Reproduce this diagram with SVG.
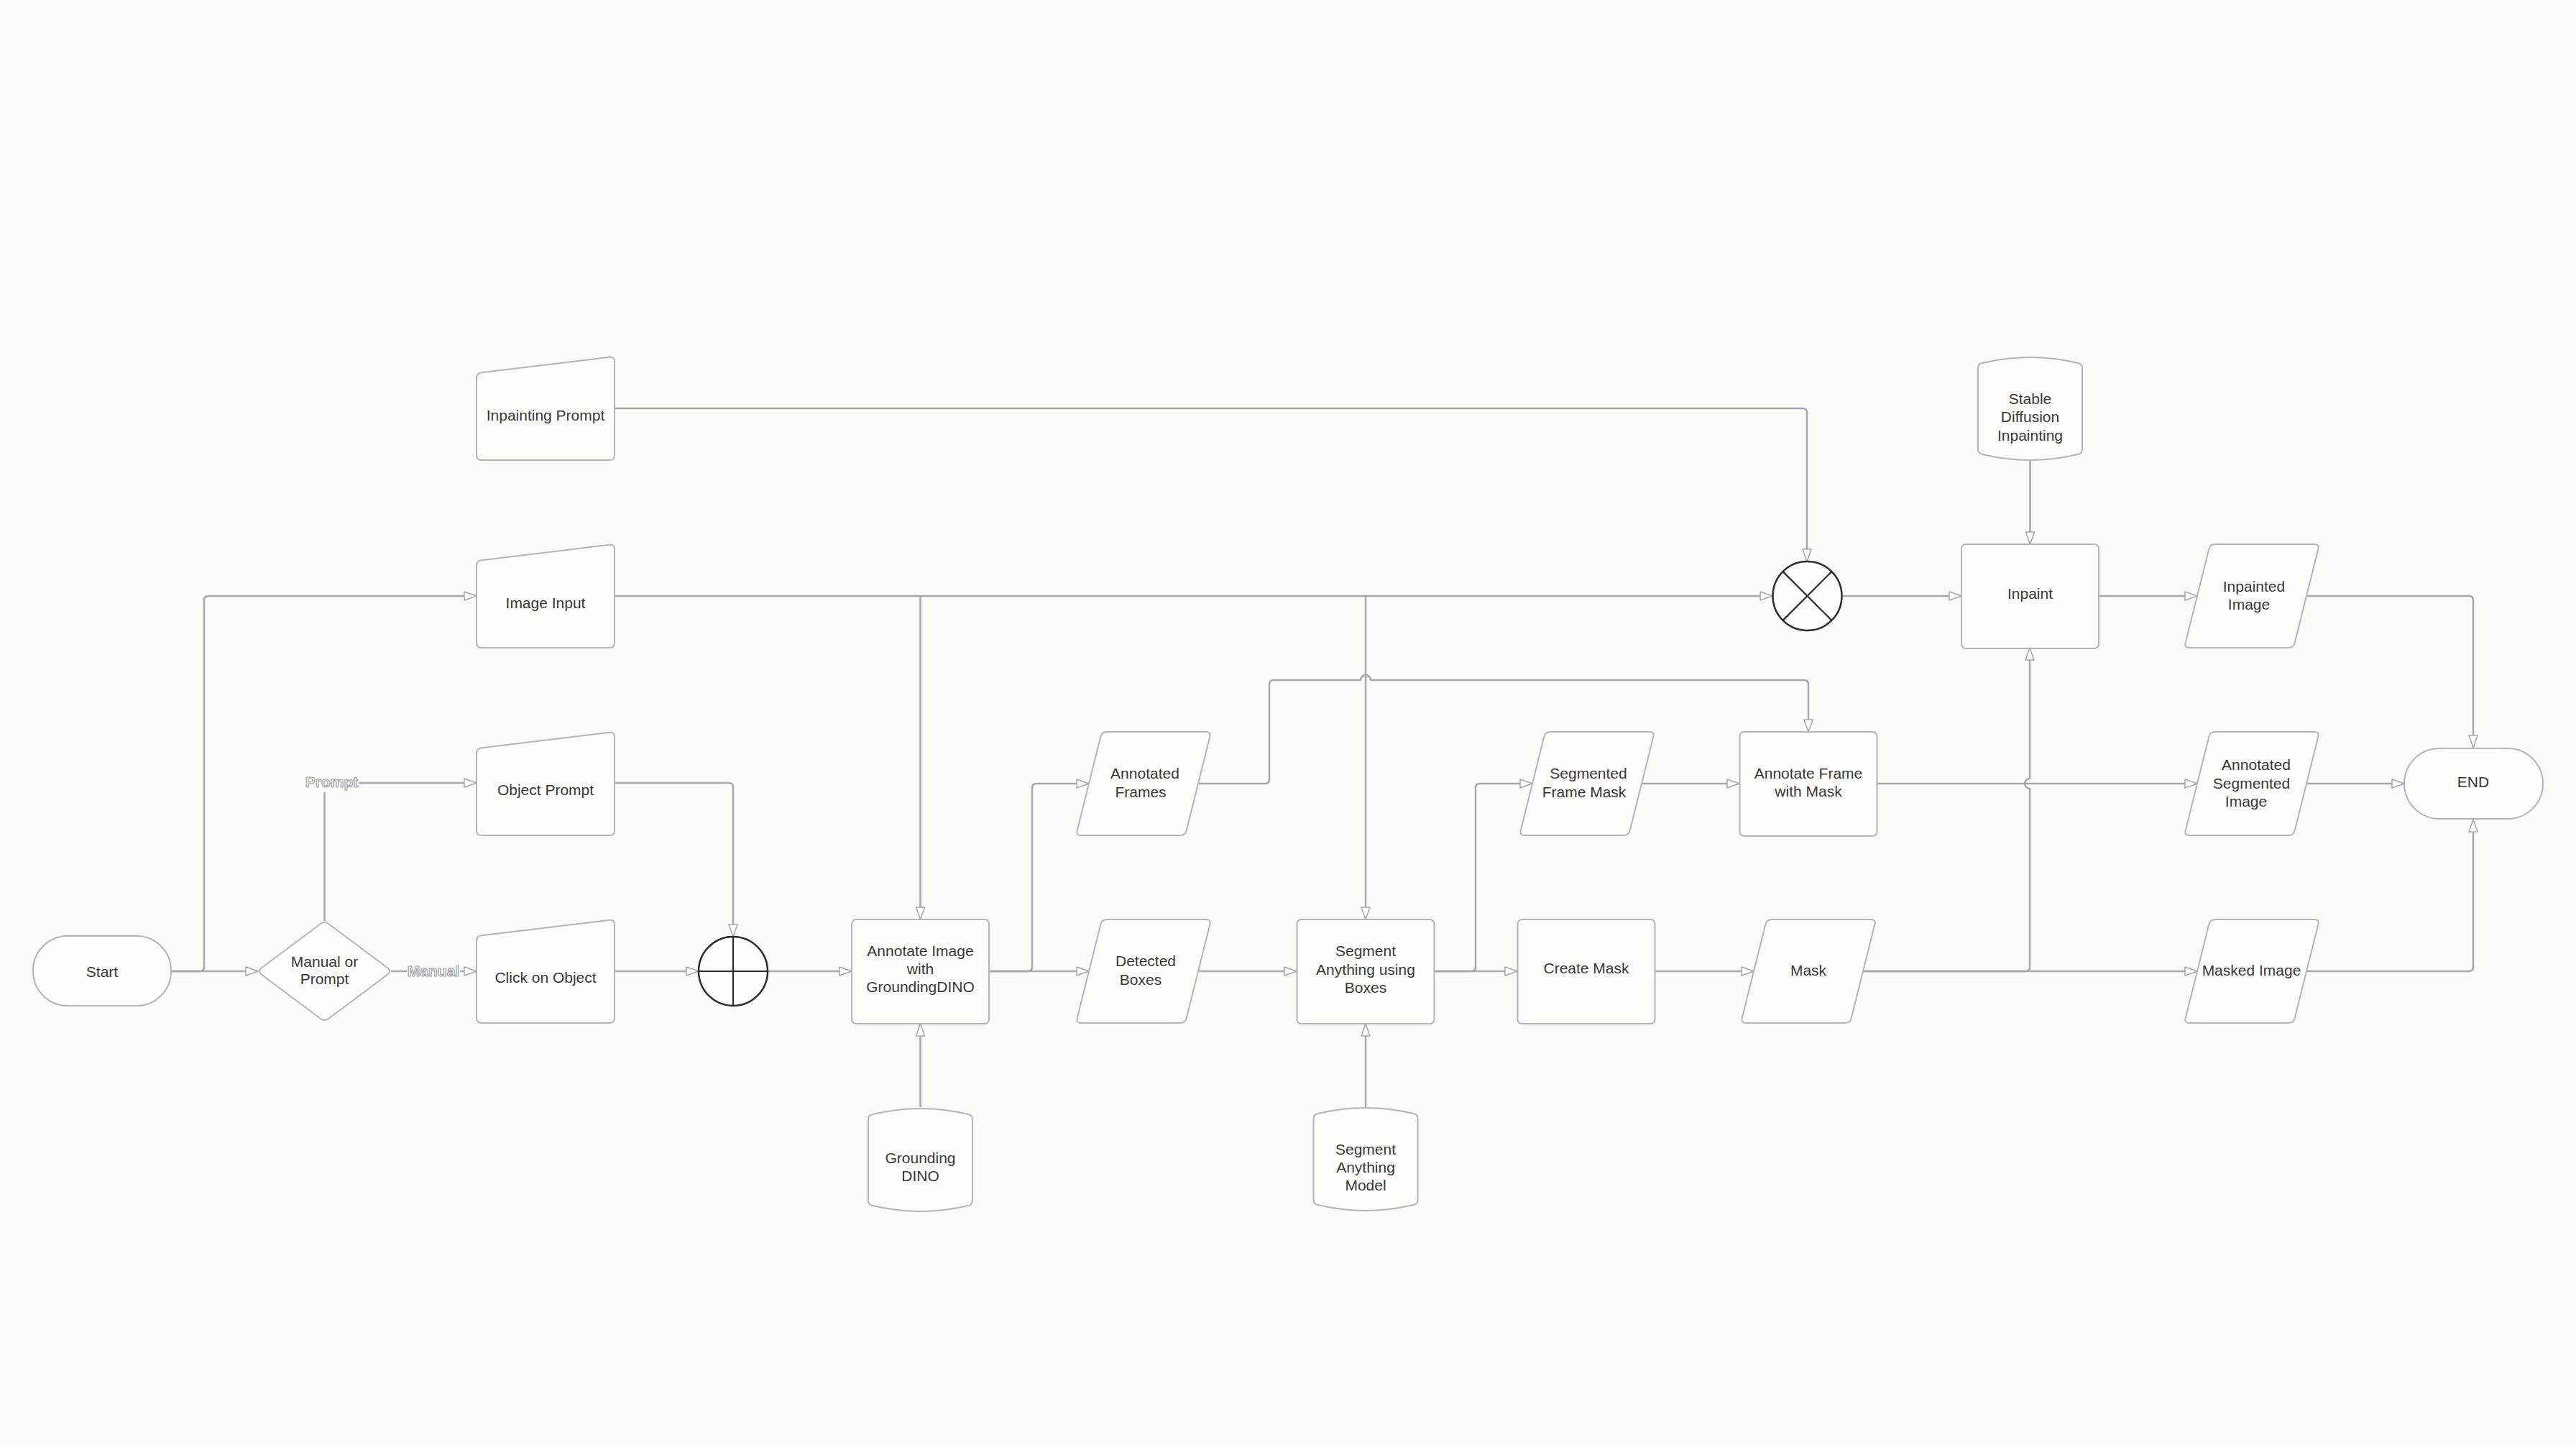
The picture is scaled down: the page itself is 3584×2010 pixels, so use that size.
<svg xmlns="http://www.w3.org/2000/svg" xmlns:xlink="http://www.w3.org/1999/xlink" width="3584" height="2010" viewBox="0 0 3584 2010">
<style>
.shape{fill:#fdfdfc;stroke:#b4b4ba;stroke-width:2;stroke-linejoin:round}
.conn path{fill:none;stroke:#a6a6ad;stroke-width:2.5;stroke-linejoin:round}
.conn path.arr{marker-end:url(#arrow)}
.t{font-family:"Liberation Sans",Arial,sans-serif;font-size:21px;fill:#383838;text-anchor:middle}
.lbl{font-family:"Liberation Sans",Arial,sans-serif;font-size:21px;font-weight:bold;fill:#efefef;stroke:#a8a8ae;stroke-width:1.2;text-anchor:middle}
.lblbg{fill:#fbfbf9;stroke:none}
.junc{fill:#fdfdfc;stroke:#2d2d2d;stroke-width:2.5}
.junc line{stroke:#2d2d2d;stroke-width:2.2}
</style>
<defs>
<marker id="arrow" viewBox="0 0 19 14" refX="18" refY="7" markerWidth="19" markerHeight="14" markerUnits="userSpaceOnUse" orient="auto">
<path d="M1,1 L18,7 L1,13 Z" fill="#fbfbf9" stroke="#a6a6ad" stroke-width="1.5" stroke-linejoin="round"/>
</marker>
<path id="manual" d="M0,30 Q0,23 7,22.2 L185,0.8 Q192,0 192,7 L192,137 Q192,144 185,144 L7,144 Q0,144 0,137 Z"/>
<path id="para" d="M34.3,6.8 Q36,0 43,0 L181,0 Q188,0 186.3,6.8 L153.7,137.2 Q152,144 145,144 L7,144 Q0,144 1.7,137.2 Z"/>
<path id="cyl" d="M0,16 Q0,10 6,9 Q72.5,-7 139,9 Q145,10 145,16 L145,129 Q145,135 139,136 Q72.5,152 6,136 Q0,135 0,129 Z"/>
<rect id="box" x="0" y="0" width="191" height="145" rx="6"/>
</defs>
<rect x="0" y="0" width="3584" height="2010" fill="#fbfbf9"/>

<g id="connectors" class="conn">
<path class="arr" d="M238,1351 H359"/>
<path class="arr" d="M238,1351 H278 Q284,1351 284,1345 V835 Q284,829 290,829 H663"/>
<path class="arr" d="M451.5,1281 V1095 Q451.5,1089 457.5,1089 H663"/>
<path class="arr" d="M544,1351 H663"/>
<path class="arr" d="M855,1089 H1014 Q1020,1089 1020,1095 V1303"/>
<path class="arr" d="M855,1351 H972"/>
<path class="arr" d="M1068,1351 H1185"/>
<path class="arr" d="M855,829 H2466"/>
<path class="arr" d="M1280.5,829 V1279"/>
<path class="arr" d="M1900,829 V1279"/>
<path class="arr" d="M855,568 H2508 Q2514,568 2514,574 V781"/>
<path class="arr" d="M1280.5,1540 V1424"/>
<path class="arr" d="M1376,1351 H1515"/>
<path class="arr" d="M1376,1351 H1430 Q1436,1351 1436,1345 V1096 Q1436,1090 1442,1090 H1515"/>
<path class="arr" d="M1667,1090 H1760 Q1766,1090 1766,1084 V952 Q1766,946 1772,946 H1893 A7,7 0 0 1 1907,946 H2510 Q2516,946 2516,952 V1018"/>
<path class="arr" d="M1667,1351 H1804"/>
<path class="arr" d="M1900,1540 V1424"/>
<path class="arr" d="M1996,1351 H2111"/>
<path class="arr" d="M1996,1351 H2047 Q2053,1351 2053,1345 V1096 Q2053,1090 2059,1090 H2132"/>
<path class="arr" d="M2284,1090 H2420"/>
<path class="arr" d="M2303,1351 H2440"/>
<path class="arr" d="M2592,1351 H3057"/>
<path class="arr" d="M2592,1351 H2818 Q2824,1351 2824,1345 V1097 A7,7 0 0 1 2824,1083 V901"/>
<path class="arr" d="M2612,1090 H3057"/>
<path class="arr" d="M2563,829 H2729"/>
<path class="arr" d="M2824.5,640 V757"/>
<path class="arr" d="M2920,829 H3057"/>
<path class="arr" d="M3209,829 H3435 Q3441,829 3441,835 V1040"/>
<path class="arr" d="M3209,1090 H3345"/>
<path class="arr" d="M3209,1351 H3435 Q3441,1351 3441,1345 V1140"/>
<rect class="lblbg" x="423" y="1074" width="76" height="28"/>
<text class="lbl" x="461.5" y="1094.5">Prompt</text>
<rect class="lblbg" x="566" y="1338" width="74" height="26"/>
<text class="lbl" x="603" y="1357.5">Manual</text>
</g>

<g id="start">
<rect class="shape" x="46" y="1302" width="192" height="97" rx="48"/>
<text class="t" x="142" y="1358.5">Start</text>
</g>
<g id="manual-or-prompt">
<path class="shape" d="M446,1285 Q451.5,1281 457,1285 L540,1347 Q544,1351 540,1355 L457,1417 Q451.5,1421 446,1417 L363,1355 Q359,1351 363,1347 Z"/>
<text class="t" x="451.5" y="1344.5">Manual or</text>
<text class="t" x="451.5" y="1368.5">Prompt</text>
</g>
<g id="inpainting-prompt">
<use xlink:href="#manual" class="shape" transform="translate(663,496)"/>
<text class="t" x="759" y="584.5">Inpainting Prompt</text>
</g>
<g id="image-input">
<use xlink:href="#manual" class="shape" transform="translate(663,757)"/>
<text class="t" x="759" y="845.5">Image Input</text>
</g>
<g id="object-prompt">
<use xlink:href="#manual" class="shape" transform="translate(663,1018)"/>
<text class="t" x="759" y="1105.5">Object Prompt</text>
</g>
<g id="click-on-object">
<use xlink:href="#manual" class="shape" transform="translate(663,1279)"/>
<text class="t" x="759" y="1366.5">Click on Object</text>
</g>
<g id="or-junction" class="junc">
<circle cx="1020" cy="1351" r="48"/>
<line x1="1020" y1="1303" x2="1020" y2="1399"/>
<line x1="972" y1="1351" x2="1068" y2="1351"/>
</g>
<g id="annotate-image">
<use xlink:href="#box" class="shape" transform="translate(1185,1279)"/>
<text class="t" x="1280.5" y="1330">Annotate Image</text>
<text class="t" x="1280.5" y="1355">with</text>
<text class="t" x="1280.5" y="1380">GroundingDINO</text>
</g>
<g id="grounding-dino">
<use xlink:href="#cyl" class="shape" transform="translate(1208,1541)"/>
<text class="t" x="1280.5" y="1617.5">Grounding</text>
<text class="t" x="1280.5" y="1642.5">DINO</text>
</g>
<g id="annotated-frames">
<use xlink:href="#para" class="shape" transform="translate(1497,1018)"/>
<text class="t" x="1593" y="1082.5">Annotated</text>
<text class="t" x="1587" y="1108.5">Frames</text>
</g>
<g id="detected-boxes">
<use xlink:href="#para" class="shape" transform="translate(1497,1279)"/>
<text class="t" x="1594" y="1343.5">Detected</text>
<text class="t" x="1587" y="1369.5">Boxes</text>
</g>
<g id="segment-anything-boxes">
<use xlink:href="#box" class="shape" transform="translate(1804.5,1279)"/>
<text class="t" x="1900" y="1329.5">Segment</text>
<text class="t" x="1900" y="1355.5">Anything using</text>
<text class="t" x="1900" y="1380.5">Boxes</text>
</g>
<g id="segment-anything-model">
<use xlink:href="#cyl" class="shape" transform="translate(1827.5,1540)"/>
<text class="t" x="1900" y="1605.5">Segment</text>
<text class="t" x="1900" y="1630.5">Anything</text>
<text class="t" x="1900" y="1655.5">Model</text>
</g>
<g id="segmented-frame-mask">
<use xlink:href="#para" class="shape" transform="translate(2114,1018)"/>
<text class="t" x="2210" y="1082.5">Segmented</text>
<text class="t" x="2204" y="1108.5">Frame Mask</text>
</g>
<g id="create-mask">
<use xlink:href="#box" class="shape" transform="translate(2111.5,1279)"/>
<text class="t" x="2207" y="1354">Create Mask</text>
</g>
<g id="annotate-frame-mask">
<use xlink:href="#box" class="shape" transform="translate(2420.5,1018)"/>
<text class="t" x="2516" y="1082.5">Annotate Frame</text>
<text class="t" x="2516" y="1107.5">with Mask</text>
</g>
<g id="mask">
<use xlink:href="#para" class="shape" transform="translate(2422,1279)"/>
<text class="t" x="2516" y="1356.5">Mask</text>
</g>
<g id="and-junction" class="junc">
<circle cx="2514.5" cy="829" r="48"/>
<line x1="2480.6" y1="795.1" x2="2548.4" y2="862.9"/>
<line x1="2548.4" y1="795.1" x2="2480.6" y2="862.9"/>
</g>
<g id="stable-diffusion">
<use xlink:href="#cyl" class="shape" transform="translate(2752,496)"/>
<text class="t" x="2824.5" y="561.5">Stable</text>
<text class="t" x="2824.5" y="587">Diffusion</text>
<text class="t" x="2824.5" y="612.5">Inpainting</text>
</g>
<g id="inpaint">
<use xlink:href="#box" class="shape" transform="translate(2729,757)"/>
<text class="t" x="2824.5" y="832.5">Inpaint</text>
</g>
<g id="inpainted-image">
<use xlink:href="#para" class="shape" transform="translate(3039,757)"/>
<text class="t" x="3136" y="822.5">Inpainted</text>
<text class="t" x="3129" y="847.5">Image</text>
</g>
<g id="annotated-segmented-image">
<use xlink:href="#para" class="shape" transform="translate(3039,1018)"/>
<text class="t" x="3139" y="1071">Annotated</text>
<text class="t" x="3132.5" y="1096.5">Segmented</text>
<text class="t" x="3125" y="1122">Image</text>
</g>
<g id="masked-image">
<use xlink:href="#para" class="shape" transform="translate(3039,1279)"/>
<text class="t" x="3132.5" y="1356.5">Masked Image</text>
</g>
<g id="end">
<rect class="shape" x="3345" y="1041" width="193" height="98" rx="49"/>
<text class="t" x="3441" y="1094.5">END</text>
</g>
</svg>
